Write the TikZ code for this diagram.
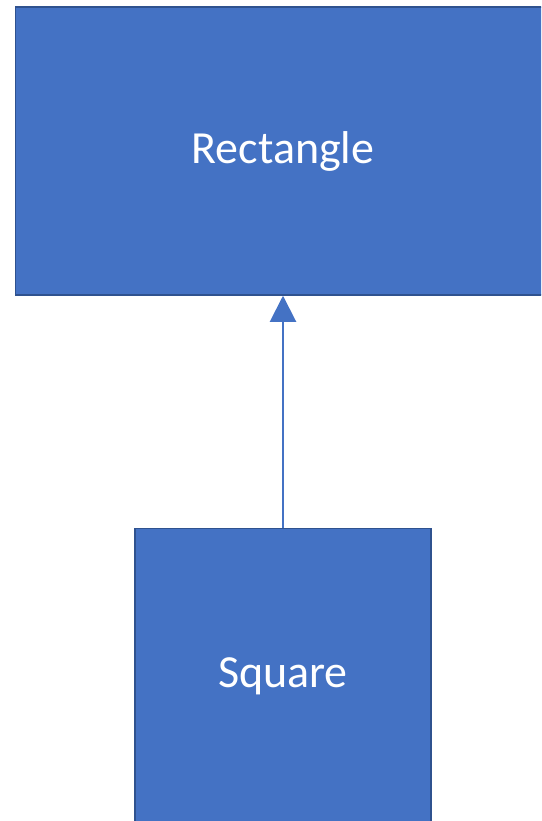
\documentclass[tikz,border=0pt]{standalone}
\usepackage{fontspec}
\setmainfont{Carlito}
\usepackage{tikz}
\usetikzlibrary{positioning, arrows.meta}

\definecolor{boxblue}{HTML}{4472C4}
\definecolor{boxedge}{HTML}{2F528F}

\begin{document}
\begin{tikzpicture}[x=1pt, y=-1pt]
			\useasboundingbox (0,0) rectangle (541,821);
			\clip (0,0) rectangle (541,821);

			% Rectangle
			\node [draw=boxedge,
				line width=1.5pt,
				fill=boxblue,
				text=white,
				font=\fontsize{46}{54}\selectfont,
				minimum width=535pt,
				minimum height=288pt
				] (rect) at (283,151) {Rectangle};

			% Square
			\node [draw=boxedge,
				line width=1.5pt,
				fill=boxblue,
				text=white,
				font=\fontsize{46}{54}\selectfont,
				minimum width=296pt,
				minimum height=296pt,
				below=232pt of rect
				] (sq) {Square};

			% Arrow
			\draw[-{Triangle[width=26pt,length=26pt]}, boxblue, line width=2pt]
				(sq.north) -- (rect.south);

		\end{tikzpicture}
\end{document}
